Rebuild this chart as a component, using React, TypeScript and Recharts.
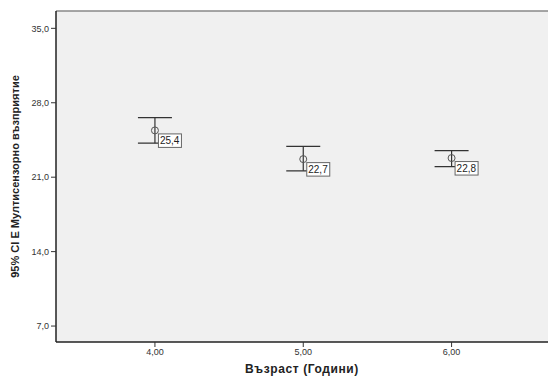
import React from "react";
import {
    ComposedChart,
    Scatter,
    ErrorBar,
    XAxis,
    YAxis,
    ReferenceLine,
    ReferenceArea,
} from "recharts";

const AGES = [4, 5, 6];
const MEANS = [25.4, 22.7, 22.8];
const CI_LOW = [24.2, 21.6, 22.0];
const CI_HIGH = [26.6, 23.9, 23.5];

const Y_TICKS = [7, 14, 21, 28, 35];
const X_TICKS = [4, 5, 6];

const Y_LABEL = "95% CI Е Мултисензорно възприятие";
const X_LABEL = "Възраст (Години)";

const FONT = "Arial, 'Liberation Sans', sans-serif";
const Y_MIN = 5.5;
const Y_MAX = 36.63;

const data = AGES.map((age, i) => ({
    age,
    mean: MEANS[i],
    err: [MEANS[i] - CI_LOW[i], CI_HIGH[i] - MEANS[i]],
}));

const comma = (v: number, digits: number) => v.toFixed(digits).replace(".", ",");

// mean marker: open circle plus a boxed value label to its lower right
const MeanPoint = (props: any) => {
    const { cx, cy, payload } = props;
    if (cx == null || cy == null) return null;
    return (
        <g>
            <circle cx={cx} cy={cy} r={3.5} fill="none" stroke="#555" strokeWidth={1} />
            <rect
                x={cx + 3.5}
                y={cy + 3.5}
                width={23}
                height={13.5}
                fill="#fff"
                stroke="#666"
                strokeWidth={1}
            />
            <text
                x={cx + 5}
                y={cy + 14}
                fontSize={10}
                fontFamily={FONT}
                fill="#222"
            >
                {comma(payload.mean, 1)}
            </text>
        </g>
    );
};

const App = () => {
    return (
        <div style={{ position: "absolute", left: 0, top: 0, background: "#fff" }}>
            <ComposedChart
                width={548}
                height={377}
                data={data}
                margin={{ top: 11, right: 0, bottom: 0, left: 0 }}
            >
                <ReferenceArea
                    x1={3.333}
                    x2={6.65}
                    y1={Y_MIN}
                    y2={Y_MAX}
                    fill="#f0f0f0"
                    fillOpacity={1}
                    stroke="none"
                    ifOverflow="visible"
                />
                <ReferenceLine y={Y_MAX} stroke="#888" strokeWidth={1.5} ifOverflow="visible" />
                <XAxis
                    type="number"
                    dataKey="age"
                    domain={[3.333, 6.65]}
                    ticks={X_TICKS}
                    allowDataOverflow
                    height={35}
                    tickLine={{ stroke: "#333" }}
                    tickSize={5}
                    axisLine={{ stroke: "#222", strokeWidth: 1.5 }}
                    tick={{ fontSize: 9, fontFamily: FONT, fill: "#333" }}
                    tickFormatter={(v: number) => comma(v, 2)}
                    label={{
                        value: X_LABEL,
                        position: "insideBottom",
                        offset: 4,
                        style: {
                            fontSize: 12,
                            fontWeight: "bold",
                            fontFamily: FONT,
                            fill: "#222",
                            letterSpacing: 0.6,
                        },
                    }}
                />
                <YAxis
                    type="number"
                    dataKey="mean"
                    domain={[Y_MIN, Y_MAX]}
                    ticks={Y_TICKS}
                    allowDataOverflow
                    width={56}
                    tickLine={{ stroke: "#333" }}
                    tickSize={5}
                    axisLine={{ stroke: "#222", strokeWidth: 1.5 }}
                    tick={{ fontSize: 9, fontFamily: FONT, fill: "#333" }}
                    tickFormatter={(v: number) => comma(v, 1)}
                    label={{
                        value: Y_LABEL,
                        angle: -90,
                        position: "insideLeft",
                        offset: 15,
                        style: {
                            fontSize: 11,
                            fontWeight: "bold",
                            fontFamily: FONT,
                            fill: "#222",
                            textAnchor: "middle",
                        },
                    }}
                />
                <Scatter dataKey="mean" shape={<MeanPoint />} isAnimationActive={false}>
                    <ErrorBar
                        dataKey="err"
                        direction="y"
                        width={17}
                        stroke="#333"
                        strokeWidth={1.2}
                        isAnimationActive={false}
                    />
                </Scatter>
            </ComposedChart>
        </div>
    );
};

export default App;
